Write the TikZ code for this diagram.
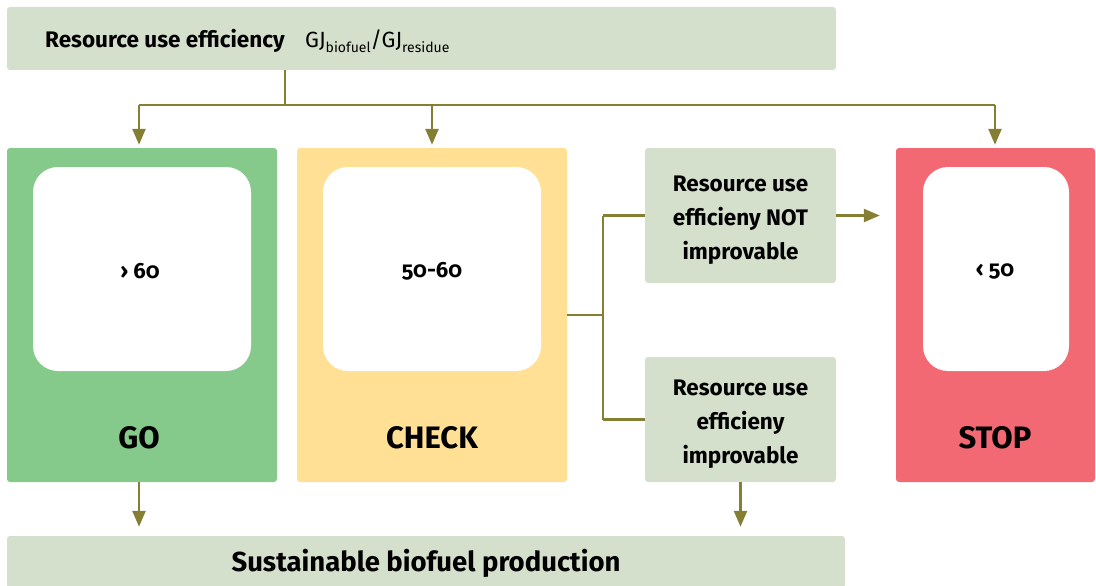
\documentclass[tikz,border=0pt]{standalone}
\usepackage{fontspec}
\setmainfont{Fira Sans}
\newfontfamily\oldnum{Fira Sans}[Numbers=OldStyle]
\usetikzlibrary{arrows.meta}
\definecolor{sage}{HTML}{D5E0CC}
\definecolor{gogreen}{HTML}{85C98B}
\definecolor{checkyel}{HTML}{FFE094}
\definecolor{stopred}{HTML}{F26873}
\definecolor{olive}{HTML}{857F33}
\tikzset{
  panel/.style={draw=none, rounded corners=3pt, inner sep=0pt},
  sagebox/.style={panel, fill=sage},
  inner/.style={draw=none, fill=white, rounded corners=25pt, inner sep=0pt, minimum width=218pt, minimum height=204pt},
  conn/.style={draw=olive, line width=2.4pt},
  arr/.style={conn, -{Triangle[width=13pt,length=16pt]}, shorten >=3pt},
  big/.style={font=\bfseries\fontsize{31}{31}\selectfont},
  mid/.style={font=\bfseries\fontsize{22.5}{34}\selectfont, align=center},
  val/.style={font=\oldnum\bfseries\fontsize{22}{22}\selectfont},
}
\begin{document}
\begin{tikzpicture}[x=1pt,y=-1pt]
\useasboundingbox (0,0) rectangle (1096,586);
% top bar
\node[sagebox, minimum width=829pt, minimum height=63pt] (top) at (421.5,38.5) {};
\node[anchor=base west, inner sep=0pt, font=\bfseries\fontsize{22.5}{22.5}\selectfont] (title) at (45,48) {Resource use efficiency};
\node[anchor=base west, inner sep=0pt, font=\fontsize{22}{22}\selectfont] (unit) at (305,48) {GJ\raisebox{-0.4ex}{\fontsize{14}{14}\selectfont biofuel}/GJ\raisebox{-0.4ex}{\fontsize{14}{14}\selectfont residue}};
% category panels
\node[panel, fill=gogreen, minimum width=270pt, minimum height=334pt] (go) at (142,315) {};
\node[inner] (goin) at (142,269) {};
\node[val] (gov) at (140,271) {› 60};
\node[big] (golab) at (139,438) {GO};
\node[panel, fill=checkyel, minimum width=270pt, minimum height=334pt] (check) at (432,315) {};
\node[inner] (checkin) at (432,269) {};
\node[val] (checkv) at (432,271) {50-60};
\node[big] (checklab) at (432,438) {CHECK};
\node[panel, fill=stopred, minimum width=199pt, minimum height=334pt] (stop) at (995.5,315) {};
\node[inner, minimum width=146pt] (stopin) at (996,269) {};
\node[val] (stopv) at (995,271) {‹ 50};
\node[big] (stoplab) at (995,438) {STOP};
% decision boxes
\node[sagebox, minimum width=191pt, minimum height=135pt] (notimp) at (740.5,215.5) {};
\node[mid] at ([yshift=-5pt]notimp.center) {Resource use\\efficieny NOT\\improvable};
\node[sagebox, minimum width=191pt, minimum height=125pt] (imp) at (740.5,419.5) {};
\node[mid] at ([yshift=-5pt]imp.center) {Resource use\\efficieny\\improvable};
% bottom bar
\node[sagebox, minimum width=838pt, minimum height=52pt] (bottom) at (426,562) {};
\node[font=\bfseries\fontsize{27.5}{27.5}\selectfont] (bottomlab) at (426,563) {Sustainable biofuel production};
% connectors
\coordinate (hl) at (139,105);
\coordinate (hr) at (995,105);
\coordinate (ht) at (285,105);
\coordinate (hc) at (check.north |- hl);
\draw[conn] (ht |- top.south) -- (ht);
\draw[conn] (hl) -- (hr);
\draw[arr] (hl) -- (hl |- go.north);
\draw[arr] (hc) -- (check.north);
\draw[arr] (hr) -- (hr |- stop.north);
\coordinate (sp) at (603,315);
\draw[conn] (check.east |- sp) -- (sp);
\draw[conn] (sp |- notimp.west) -- (sp |- imp.west);
\draw[conn] (sp |- notimp.west) -- (notimp.west);
\draw[conn] (sp |- imp.west) -- (imp.west);
\draw[arr, shorten >=16pt] (notimp.east) -- (notimp.east -| stop.west);
\coordinate (gob) at (hl |- go.south);
\draw[arr, shorten >=9pt] (gob) -- (gob |- bottom.north);
\draw[arr, shorten >=9pt] (imp.south) -- (imp.south |- bottom.north);
\end{tikzpicture}
\end{document}
